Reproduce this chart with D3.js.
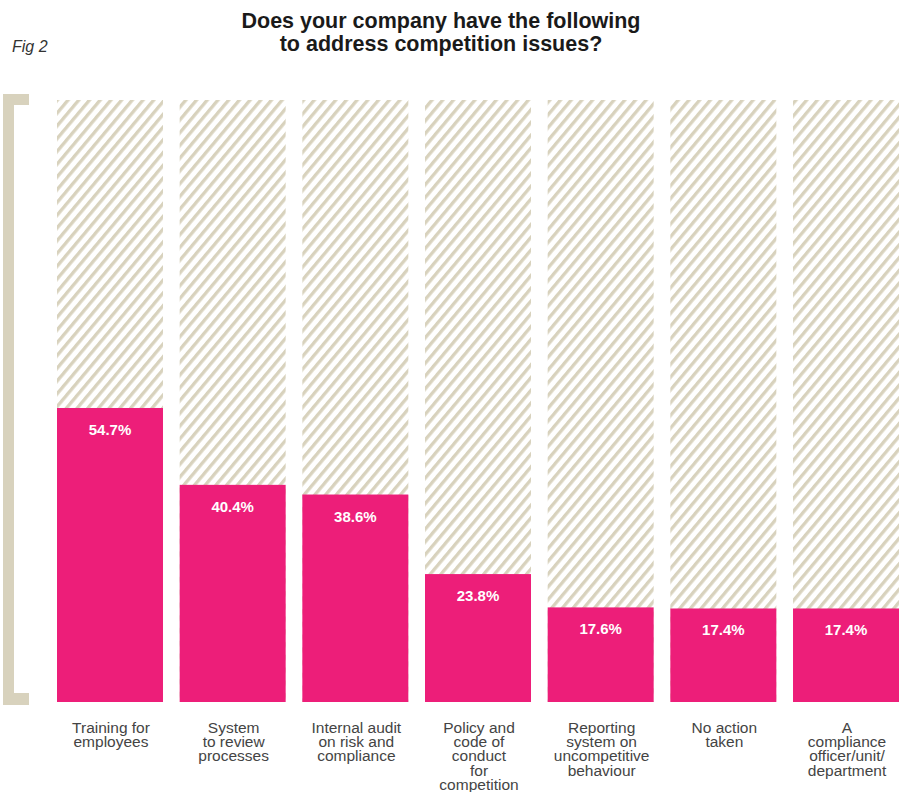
<!DOCTYPE html>
<meta charset="utf-8">
<style>
body { margin: 0; background: #fff; }
svg { display: block; font-family: "Liberation Sans", Arial, sans-serif; }
.title { font-weight: bold; font-size: 21.5px; fill: #1a1a1a; text-anchor: middle; }
.fig { font-style: italic; font-size: 16px; fill: #333; }
.cat { font-size: 15.5px; fill: #444; text-anchor: middle; }
.val { font-size: 15px; font-weight: bold; fill: #fff; text-anchor: middle; }
</style>
<body>
<svg width="907" height="792"></svg>
<script src="https://d3js.org/d3.v7.min.js"></script>
<script>
// chart data
var categories = [
  "Training for employees",
  "System to review processes",
  "Internal audit on risk and compliance",
  "Policy and code of conduct for competition",
  "Reporting system on uncompetitive behaviour",
  "No action taken",
  "A compliance officer/unit/ department"
];
var labelLines = [
  ["Training for", "employees"],
  ["System", "to review", "processes"],
  ["Internal audit", "on risk and", "compliance"],
  ["Policy and", "code of", "conduct", "for", "competition"],
  ["Reporting", "system on", "uncompetitive", "behaviour"],
  ["No action", "taken"],
  ["A", "compliance", "officer/unit/", "department"]
];
var values = [54.7, 40.4, 38.6, 23.8, 17.6, 17.4, 17.4];

var pink = "#ed1e79", beige = "#d8d2bd";
var plotBottom = 702, plotTop = 100, yMax = 112;

var svg = d3.select("svg");

var x = d3.scaleBand()
    .domain(categories)
    .range([57, 899])
    .paddingInner(0.136)
    .paddingOuter(0);

var y = d3.scaleLinear()
    .domain([0, yMax])
    .range([plotBottom, plotTop]);

// hatch pattern
var defs = svg.append("defs");
var pat = defs.append("pattern")
    .attr("id", "hatch")
    .attr("patternUnits", "userSpaceOnUse")
    .attr("width", 8.2).attr("height", 10)
    .attr("patternTransform", "rotate(40)");
pat.append("rect")
    .attr("x", 0).attr("y", 0)
    .attr("width", 3.3).attr("height", 10)
    .attr("fill", beige);

// title
svg.append("text").attr("class", "title").attr("x", 441).attr("y", 28)
    .text("Does your company have the following");
svg.append("text").attr("class", "title").attr("x", 441).attr("y", 51)
    .text("to address competition issues?");
svg.append("text").attr("class", "fig").attr("x", 12).attr("y", 52).text("Fig 2");

// left bracket
svg.append("path")
    .attr("d", "M3,94 H29 V105 H14 V693 H29 V705 H3 Z")
    .attr("fill", beige);

// background hatched columns
svg.selectAll(".bg")
    .data(categories)
  .enter().append("rect")
    .attr("class", "bg")
    .attr("x", function(d) { return x(d); })
    .attr("y", y(yMax))
    .attr("width", x.bandwidth())
    .attr("height", y(0) - y(yMax))
    .attr("fill", "url(#hatch)");

// bars
svg.selectAll(".bar")
    .data(values)
  .enter().append("rect")
    .attr("class", "bar")
    .attr("x", function(d, i) { return x(categories[i]); })
    .attr("y", function(d) { return y(d); })
    .attr("width", x.bandwidth())
    .attr("height", function(d) { return y(0) - y(d); })
    .attr("fill", pink);

// value labels
svg.selectAll(".val")
    .data(values)
  .enter().append("text")
    .attr("class", "val")
    .attr("x", function(d, i) { return x(categories[i]) + x.bandwidth() / 2; })
    .attr("y", function(d) { return y(d) + 27; })
    .text(function(d) { return d.toFixed(1) + "%"; });

// category labels
var cats = svg.selectAll(".cat")
    .data(categories)
  .enter().append("text")
    .attr("class", "cat")
    .attr("x", function(d) { return x(d) + x.bandwidth() / 2 + 1; })
    .attr("y", 733);
cats.each(function(d, i) {
  var t = d3.select(this);
  labelLines[i].forEach(function(line, j) {
    t.append("tspan")
      .attr("x", x(d) + x.bandwidth() / 2 + 1)
      .attr("dy", j === 0 ? 0 : 14.2)
      .text(line);
  });
});
</script>
</body>
